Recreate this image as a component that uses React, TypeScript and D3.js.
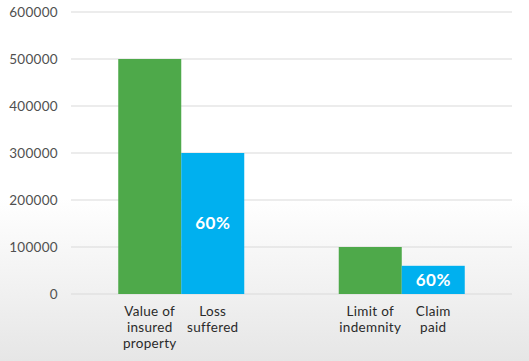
import React from "react";
import * as d3 from "d3";

// groups on the x axis, each with a green bar and a blue bar
const groups = ["property", "indemnity"];
const greenValues = [500000, 100000];
const blueValues = [300000, 60000];
const greenLabels = [["Value of", "insured", "property"], ["Limit of", "indemnity"]];
const blueLabels = [["Loss", "suffered"], ["Claim", "paid"]];
const blueShares = ["60%", "60%"];
const yTicks = [0, 100000, 200000, 300000, 400000, 500000, 600000];

const width = 529;
const height = 361;
const margin = { top: 12, right: 17, bottom: 67, left: 71 };

const GREEN = "#4ea94a";
const BLUE = "#00b0ef";
const FONT = "Lato, 'Open Sans', sans-serif";

const App = () => {
  const x0 = d3
    .scaleBand()
    .domain(groups)
    .range([margin.left, width - margin.right])
    .padding(0);
  const x1 = d3
    .scaleBand()
    .domain(["green", "blue"])
    .range([0, x0.bandwidth()])
    .paddingInner(0)
    .paddingOuter(0.75);
  const y = d3
    .scaleLinear()
    .domain([0, 600000])
    .range([height - margin.bottom, margin.top]);

  const bars = groups.flatMap((g, i) => [
    { key: g + "-green", x: x0(g) + x1("green"), value: greenValues[i], color: GREEN, label: greenLabels[i], share: null },
    { key: g + "-blue", x: x0(g) + x1("blue"), value: blueValues[i], color: BLUE, label: blueLabels[i], share: blueShares[i] },
  ]);

  return (
    <svg
      width={width}
      height={height}
      style={{ position: "absolute", left: 0, top: 0, display: "block" }}
      fontFamily={FONT}
    >
      <defs>
        <linearGradient id="bg" x1="0" y1="0" x2="0" y2="1">
          <stop offset="0" stopColor="#ffffff" />
          <stop offset="0.55" stopColor="#ffffff" />
          <stop offset="1" stopColor="#e6e6e6" />
        </linearGradient>
      </defs>
      <rect width={width} height={height} fill="url(#bg)" />

      {/* grid + y labels */}
      {yTicks.map((t) => (
        <g key={t}>
          <line
            x1={margin.left}
            x2={width - margin.right}
            y1={y(t)}
            y2={y(t)}
            stroke="#d9d9d9"
            strokeWidth={1.2}
          />
          <text
            x={58}
            y={y(t)}
            dy="0.35em"
            textAnchor="end"
            fontSize={13.5}
            letterSpacing={0.3}
            fill="#505050"
          >
            {t}
          </text>
        </g>
      ))}

      {bars.map((b) => (
        <g key={b.key}>
          <rect
            x={b.x}
            y={y(b.value)}
            width={x1.bandwidth()}
            height={y(0) - y(b.value)}
            fill={b.color}
          />
          {b.share && (
            <text
              x={b.x + x1.bandwidth() / 2}
              y={(y(b.value) + y(0)) / 2}
              dy="0.35em"
              textAnchor="middle"
              fontSize={17}
              fontWeight="bold"
              letterSpacing={0.5}
              fill="#ffffff"
            >
              {b.share}
            </text>
          )}
          <text
            x={b.x + x1.bandwidth() / 2}
            y={y(0) + 22}
            textAnchor="middle"
            fontSize={13.5}
            letterSpacing={0.3}
            fill="#2a2a2a"
          >
            {b.label.map((line, j) => (
              <tspan key={j} x={b.x + x1.bandwidth() / 2} dy={j === 0 ? 0 : 16}>
                {line}
              </tspan>
            ))}
          </text>
        </g>
      ))}
    </svg>
  );
};

export default App;
